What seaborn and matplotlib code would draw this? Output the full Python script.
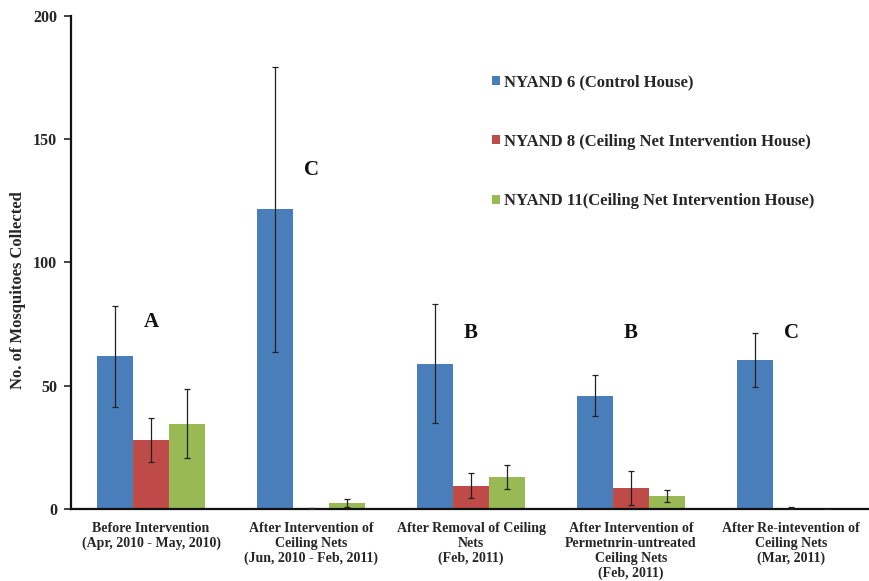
import numpy as np
import pandas as pd
import matplotlib
matplotlib.use("Agg")
import matplotlib.pyplot as plt
import seaborn as sns

# Study periods (x categories)
periods = [
    "Before Intervention\n(Apr, 2010 - May, 2010)",
    "After Intervention of\nCeiling Nets\n(Jun, 2010 - Feb, 2011)",
    "After Removal of Ceiling\nNets\n(Feb, 2011)",
    "After Intervention of\nPermetnrin-untreated\nCeiling Nets\n(Feb, 2011)",
    "After Re-intevention of\nCeiling Nets\n(Mar, 2011)",
]
houses = [
    "NYAND 6 (Control House)",
    "NYAND 8 (Ceiling Net Intervention House)",
    "NYAND 11(Ceiling Net Intervention House)",
]

# Mean mosquitoes collected per house and period
nyand6 = [62.0, 121.5, 59.0, 46.0, 60.5]
nyand8 = [28.0, 0.3, 9.5, 8.5, 0.4]
nyand11 = [34.5, 2.4, 13.0, 5.3, 0.0]

# Error bar half-widths
nyand6_err = [20.5, 58.0, 24.0, 8.3, 11.0]
nyand8_err = [9.0, 0.3, 5.0, 7.0, 0.3]
nyand11_err = [14.0, 1.6, 5.0, 2.5, 0.0]

# Significance letters above each period
letters = ["A", "C", "B", "B", "C"]
letter_y = [76, 137.5, 71.5, 71.5, 71.5]

colors = ["#4A7EBB", "#BE4B48", "#98B954"]

df = pd.DataFrame({
    "period": periods * 3,
    "house": [houses[0]] * 5 + [houses[1]] * 5 + [houses[2]] * 5,
    "count": nyand6 + nyand8 + nyand11,
    "err": nyand6_err + nyand8_err + nyand11_err,
})

sns.set_style("white")
serif = ["Liberation Serif", "DejaVu Serif"]
plt.rcParams["font.family"] = serif

fig = plt.figure(figsize=(8.69, 5.81), dpi=100)
ax = fig.add_axes([0.0817, 0.1239, 0.917, 0.8486])

sns.barplot(data=df, x="period", y="count", hue="house", hue_order=houses,
            order=periods, palette=colors, width=0.675, errorbar=None,
            saturation=1, ax=ax, linewidth=0)

# Error bars centred on each bar
for cont, h in zip(ax.containers, houses):
    sub = df[df["house"] == h].set_index("period").loc[periods]
    xs = [p.get_x() + p.get_width() / 2 for p in cont.patches]
    ax.errorbar(xs, sub["count"].values, yerr=sub["err"].values, fmt="none",
                ecolor="#222222", elinewidth=0.9, capsize=2.5, capthick=0.9,
                zorder=5)

for i, (lt, ly) in enumerate(zip(letters, letter_y)):
    ax.text(i, ly, lt, ha="center", va="center", fontsize=15,
            fontweight="bold", color="#111111")

ax.set_ylim(0, 200)
ax.set_xlim(-0.5, 4.48)
ax.set_yticks([0, 50, 100, 150, 200])
ax.set_yticklabels(["0", "50", "100", "150", "200"], fontsize=11.5,
                   fontweight="bold")
ax.set_xticks(range(len(periods)))
ax.set_xticklabels(periods, fontsize=10, fontweight="bold", linespacing=1.2)
ax.tick_params(axis="x", which="major", length=0, pad=9)
ax.set_xticks(np.arange(0.5, len(periods) - 0.5, 1.0), minor=True)
ax.tick_params(axis="x", which="minor", length=3, width=1.2, direction="out",
               color="#222222")
ax.tick_params(axis="y", length=5, width=1.2, direction="out", color="#222222",
               left=True, pad=5)
ax.set_xlabel("")
ax.set_ylabel("No. of Mosquitoes Collected", fontsize=12, fontweight="bold")
ax.yaxis.set_label_coords(-0.057, 0.444)

for s in ["top", "right"]:
    ax.spines[s].set_visible(False)
for s in ["left", "bottom"]:
    ax.spines[s].set_color("#111111")
    ax.spines[s].set_linewidth(1.6)

leg = ax.legend(loc="upper left", bbox_to_anchor=(0.52, 0.895), frameon=False,
                fontsize=12, handlelength=0.45, handleheight=0.45,
                handletextpad=0.25, labelspacing=2.6, borderaxespad=0)
for t in leg.get_texts():
    t.set_fontweight("bold")

fig.savefig("out.png", dpi=100, facecolor="white")
